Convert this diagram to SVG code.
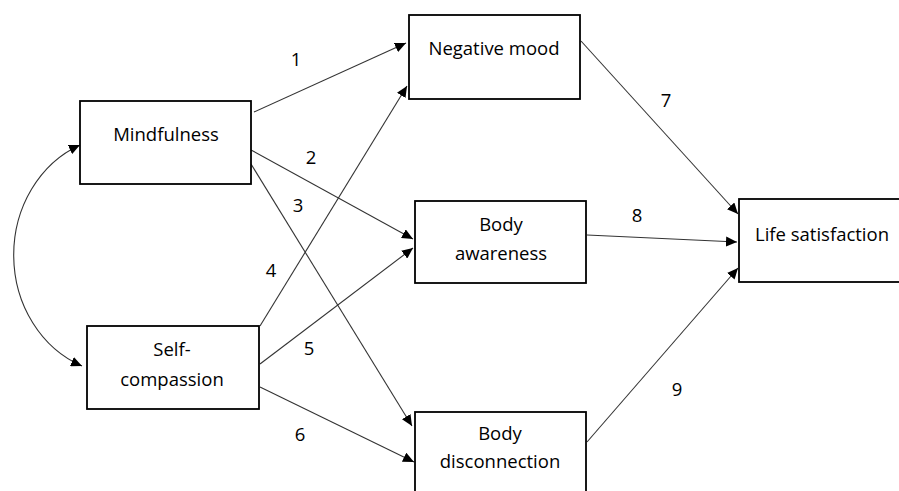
<svg xmlns="http://www.w3.org/2000/svg" width="899" height="491" viewBox="0 0 899 491">
<style>
.box{fill:#fff;stroke:#000;stroke-width:1.8}
.t{font-family:"Open Sans","Liberation Sans",sans-serif;font-size:18.5px;fill:#000;text-anchor:middle}
.c{fill:none;stroke:#333;stroke-width:1.1}
</style>
<defs>
<marker id="ah" markerUnits="userSpaceOnUse" markerWidth="12" markerHeight="10" refX="11" refY="5" orient="auto-start-reverse">
<path d="M0,0 L11,5 L0,10 Z" fill="#000"/>
</marker>
</defs>
<rect width="899" height="491" fill="#fff"/>
<g id="connectors">
<path class="c" d="M254,112 L406,43" marker-end="url(#ah)"/>
<path class="c" d="M251,150 L413,239" marker-end="url(#ah)"/>
<path class="c" d="M251,164 L412,426" marker-end="url(#ah)"/>
<path class="c" d="M260,326 L407,86" marker-end="url(#ah)"/>
<path class="c" d="M260,364 L413,248" marker-end="url(#ah)"/>
<path class="c" d="M260,387 L414,462" marker-end="url(#ah)"/>
<path class="c" d="M581,41 L738,214" marker-end="url(#ah)"/>
<path class="c" d="M587,235 L737,242" marker-end="url(#ah)"/>
<path class="c" d="M587,442 L738,268" marker-end="url(#ah)"/>
<path class="c" d="M80,145 A107,119 0 0 0 82,366" marker-start="url(#ah)" marker-end="url(#ah)"/>
</g>
<g id="mindfulness"><rect class="box" x="80" y="101" width="171" height="83"/><text class="t" x="166" y="141">Mindfulness</text></g>
<g id="self-compassion"><rect class="box" x="87" y="326" width="172" height="83"/><text class="t" x="172" y="356">Self-</text><text class="t" x="172" y="386">compassion</text></g>
<g id="negative-mood"><rect class="box" x="409" y="15" width="171" height="84"/><text class="t" x="494" y="55">Negative mood</text></g>
<g id="body-awareness"><rect class="box" x="415" y="201" width="171" height="82"/><text class="t" x="501" y="231">Body</text><text class="t" x="501" y="260">awareness</text></g>
<g id="body-disconnection"><rect class="box" x="415" y="412" width="171" height="90"/><text class="t" x="500" y="440">Body</text><text class="t" x="500" y="468">disconnection</text></g>
<g id="life-satisfaction"><rect class="box" x="739" y="199" width="170" height="83"/><text class="t" x="822" y="241">Life satisfaction</text></g>
<g id="labels">
<text class="t" x="296" y="66">1</text>
<text class="t" x="311" y="164">2</text>
<text class="t" x="298" y="212">3</text>
<text class="t" x="271" y="277">4</text>
<text class="t" x="309" y="355">5</text>
<text class="t" x="300" y="441">6</text>
<text class="t" x="666" y="107">7</text>
<text class="t" x="637" y="222">8</text>
<text class="t" x="677" y="396">9</text>
</g>
</svg>
